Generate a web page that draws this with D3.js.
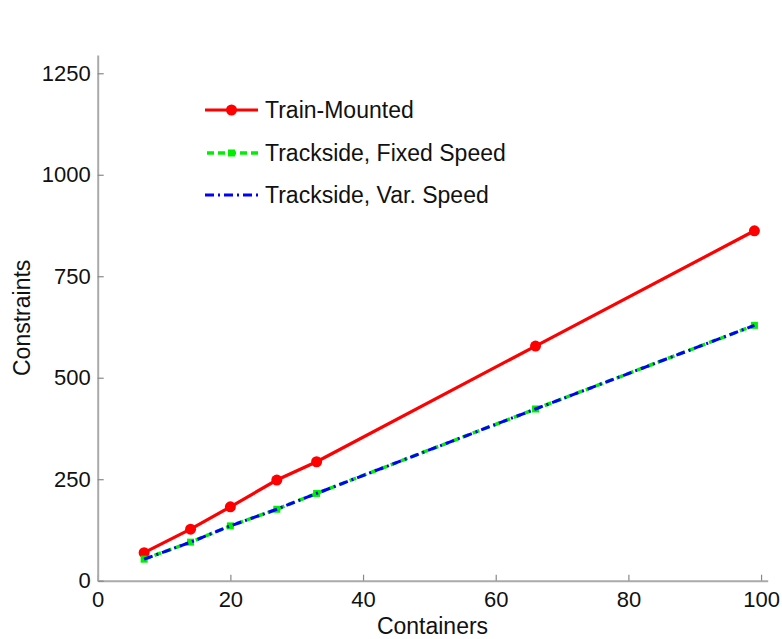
<!DOCTYPE html>
<html><head><meta charset="utf-8">
<script src="https://cdn.jsdelivr.net/npm/d3@7"></script>
<style>body{margin:0;background:#fff}svg{display:block}text{font-family:"Liberation Sans",Arial,Helvetica,sans-serif;fill:#111}</style>
</head><body>
<script>
const containers = [7, 14, 20, 27, 33, 66, 99];
const trainMounted = [69, 127, 182, 248, 293, 578, 862];
const tracksideFixed = [53, 95, 135, 176, 215, 423, 629];
const tracksideVar = [53, 95, 135, 176, 215, 423, 629];
const xTicks = [0, 20, 40, 60, 80, 100];
const yTicks = [0, 250, 500, 750, 1000, 1250];
const seriesNames = ["Train-Mounted", "Trackside, Fixed Speed", "Trackside, Var. Speed"];

const W = 782, H = 639;
const svg = d3.select("body").append("svg").attr("width", W).attr("height", H);
const x = d3.scaleLinear().domain([0, 101]).range([97.7, 767.7]);
const y = d3.scaleLinear().domain([0, 1295]).range([580.7, 55]);
const axisColor = "#aaaaaa";

// axes
const gx = svg.append("g").attr("transform", `translate(0,${y(0)})`)
  .call(d3.axisBottom(x).tickValues(xTicks).tickFormat(d3.format("d")).tickSizeInner(-6).tickSizeOuter(0).tickPadding(12));
const gy = svg.append("g").attr("transform", `translate(${x(0)},0)`)
  .call(d3.axisLeft(y).tickValues(yTicks).tickFormat(d3.format("d")).tickSizeInner(-6).tickSizeOuter(0).tickPadding(7));
[gx, gy].forEach(g => {
  g.select(".domain").attr("stroke", axisColor).attr("stroke-width", 2);
  g.selectAll(".tick line").attr("stroke", "#888").attr("stroke-width", 1.2);
  g.selectAll(".tick text").attr("font-size", 22).attr("fill", "#111")
    .style("font-family", '"Liberation Sans",Arial,sans-serif');
});
gx.selectAll(".tick text").attr("dy", "0.71em").attr("y", 11);

svg.append("text").attr("x", 432.5).attr("y", 634).attr("text-anchor", "middle")
  .attr("font-size", 23).text("Containers");
svg.append("text").attr("transform", `translate(30,${(55 + 580.7) / 2}) rotate(-90)`)
  .attr("text-anchor", "middle").attr("font-size", 23).text("Constraints");

const line = d3.line().x(d => x(d[0])).y(d => y(d[1]));
const pts = vals => containers.map((c, i) => [c, vals[i]]);

// red
svg.append("path").datum(pts(trainMounted)).attr("d", line)
  .attr("fill", "none").attr("stroke", "#ff0000").attr("stroke-width", 3.2);
svg.selectAll("circle.tm").data(pts(trainMounted)).enter().append("circle")
  .attr("cx", d => x(d[0])).attr("cy", d => y(d[1])).attr("r", 5.5).attr("fill", "#ff0000");

// green dashed
svg.append("path").datum(pts(tracksideFixed)).attr("d", line)
  .attr("fill", "none").attr("stroke", "#00ee00").attr("stroke-width", 3.5).attr("stroke-dasharray", "7,4");
svg.selectAll("rect.tf").data(pts(tracksideFixed)).enter().append("rect")
  .attr("x", d => x(d[0]) - 3.5).attr("y", d => y(d[1]) - 3.5).attr("width", 7).attr("height", 7).attr("fill", "#00ee00");
// blue dash-dot
svg.append("path").datum(pts(tracksideVar)).attr("d", line)
  .attr("fill", "none").attr("stroke", "#0000ff").attr("stroke-width", 3).attr("stroke-dasharray", "9,4,2,4");

// legend
const lg = svg.append("g");
const rows = [110, 153, 195];
lg.append("line").attr("x1", 205).attr("x2", 258).attr("y1", rows[0]).attr("y2", rows[0])
  .attr("stroke", "#ff0000").attr("stroke-width", 3.2);
lg.append("circle").attr("cx", 231.5).attr("cy", rows[0]).attr("r", 5.5).attr("fill", "#ff0000");
lg.append("line").attr("x1", 207).attr("x2", 258).attr("y1", rows[1]).attr("y2", rows[1])
  .attr("stroke", "#00ee00").attr("stroke-width", 3.5).attr("stroke-dasharray", "7,4");
lg.append("rect").attr("x", 228).attr("y", rows[1] - 3.5).attr("width", 7).attr("height", 7).attr("fill", "#00ee00");
lg.append("line").attr("x1", 205).attr("x2", 258).attr("y1", rows[2]).attr("y2", rows[2])
  .attr("stroke", "#0000ff").attr("stroke-width", 3).attr("stroke-dasharray", "9,4,2,4");
seriesNames.forEach((n, i) => {
  lg.append("text").attr("x", 265).attr("y", rows[i]).attr("dy", "0.36em")
    .attr("font-size", 23).text(n);
});
</script>
</body></html>
